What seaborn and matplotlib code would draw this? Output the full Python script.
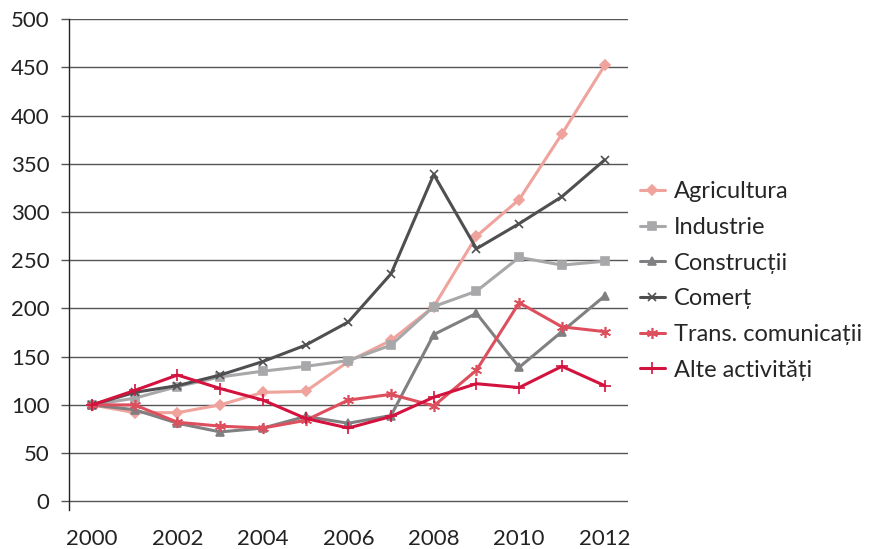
"""
Indices by sector, 2000 = 100.
"""
import numpy as np
import pandas as pd
import matplotlib
matplotlib.use("Agg")
import matplotlib.pyplot as plt
import seaborn as sns

years = list(range(2000, 2013))

agricultura = [100, 92, 92, 100, 113, 114, 145, 167, 202, 275, 313, 381, 452]
industrie = [100, 107, 119, 129, 135, 140, 146, 162, 202, 218, 253, 245, 249]
constructii = [100, 95, 81, 72, 76, 88, 81, 89, 173, 195, 139, 176, 213]
comert = [100, 113, 120, 131, 145, 162, 186, 236, 339, 262, 288, 316, 354]
trans_com = [100, 100, 82, 78, 76, 84, 105, 111, 99, 136, 206, 181, 176]
alte = [100, 115, 131, 117, 105, 86, 76, 88, 108, 122, 118, 140, 120]

series = [
    ("Agricultura", agricultura, "#F0A39C", "D", 5),
    ("Industrie", industrie, "#A8A8AA", "s", 6),
    ("Construcții", constructii, "#808082", "^", 6),
    ("Comerț", comert, "#4F4F51", "x", 6),
    ("Trans. comunicații", trans_com, "#DE4F5E", (6, 2, 0), 8),
    ("Alte activități", alte, "#D3123E", "+", 9),
]

sns.set_style("white")
plt.rcParams["font.family"] = ["Lato", "DejaVu Sans"]

fig = plt.figure(figsize=(8.73, 5.49), dpi=100)
ax = fig.add_axes([0.079, 0.071, 0.640, 0.894])

for name, vals, color, marker, ms in series:
    df = pd.DataFrame({"year": years, "value": vals})
    sns.lineplot(data=df, x="year", y="value", ax=ax, color=color, lw=2.2,
                 marker=marker, markersize=ms, markeredgecolor=color,
                 markeredgewidth=1.2, label=name)

ax.set_xlim(1999.46, 2012.54)
ax.set_ylim(-9, 500)
ax.set_yticks(np.arange(0, 501, 50))
ax.set_xticks(range(2000, 2013, 2))
ax.set_xlabel("")
ax.set_ylabel("")

ax.yaxis.grid(True, color="#555555", lw=1.0)
ax.xaxis.grid(False)
ax.set_axisbelow(True)
for side in ["top", "right", "bottom"]:
    ax.spines[side].set_visible(False)
ax.spines["left"].set_color("#222222")
ax.spines["left"].set_linewidth(1.0)

ax.tick_params(axis="y", length=6, width=1.0, color="#555555",
               labelsize=16, labelcolor="#222222", pad=8, left=True)
ax.tick_params(axis="x", length=0, labelsize=16, labelcolor="#222222", pad=14)

ax.legend(loc="center left", bbox_to_anchor=(640 / 873, 1 - 281 / 549),
          bbox_transform=fig.transFigure, frameon=False,
          fontsize=17, handlelength=1.05, handletextpad=0.4,
          labelspacing=0.62, borderaxespad=0, borderpad=0)

plt.savefig("out.png", dpi=100)
